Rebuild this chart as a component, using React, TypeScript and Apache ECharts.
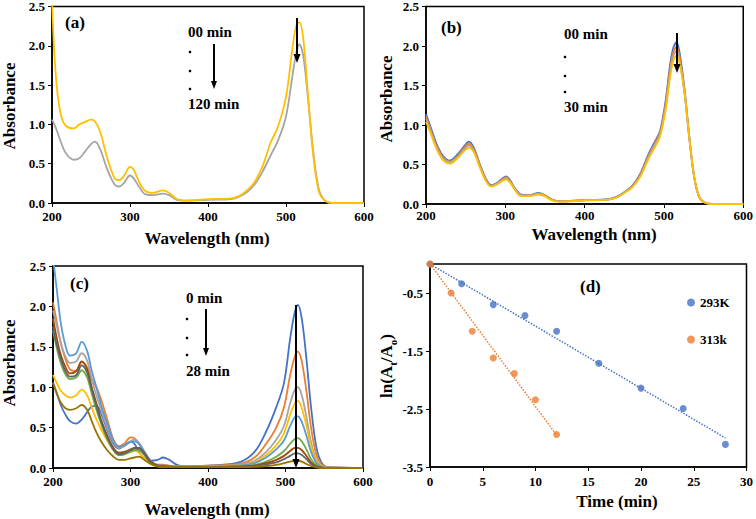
import React, { useEffect, useRef } from "react";
import * as echarts from "echarts";

// ---------- DATA ----------
// Panel (a)
const WL_A = [200, 203, 207, 212, 218, 228, 235, 242, 250, 255, 262, 270, 280, 286, 292, 300, 305, 312, 320, 330, 342, 350, 360, 370, 400, 430, 440, 450, 460, 470, 480, 490, 500, 508, 513, 517, 522, 528, 535, 542, 550, 560, 600];
const A_YELLOW = [2.6, 1.9, 1.4, 1.1, 0.98, 0.95, 1.0, 1.03, 1.06, 1.04, 0.9, 0.6, 0.32, 0.29, 0.34, 0.46, 0.42, 0.26, 0.15, 0.13, 0.16, 0.13, 0.05, 0.03, 0.05, 0.06, 0.09, 0.16, 0.27, 0.47, 0.76, 0.98, 1.35, 1.95, 2.25, 2.3, 2.1, 1.4, 0.6, 0.15, 0.03, 0.0, 0.0];
const A_GRAY = [1.06, 1.0, 0.9, 0.76, 0.63, 0.55, 0.57, 0.65, 0.75, 0.78, 0.68, 0.45, 0.24, 0.21, 0.25, 0.35, 0.31, 0.2, 0.11, 0.1, 0.12, 0.1, 0.04, 0.03, 0.04, 0.05, 0.08, 0.14, 0.24, 0.4, 0.6, 0.8, 1.1, 1.6, 1.9, 2.02, 1.88, 1.35, 0.65, 0.18, 0.03, 0.0, 0.0];

// Panel (b)
const WL_B = [200, 205, 210, 215, 222, 230, 240, 248, 254, 260, 268, 275, 282, 290, 296, 301, 306, 312, 320, 330, 342, 350, 358, 368, 400, 430, 440, 450, 460, 470, 480, 488, 495, 502, 508, 512, 516, 520, 526, 532, 538, 544, 550, 560, 600];
const B_BLUE = [1.14, 1.0, 0.85, 0.72, 0.6, 0.55, 0.63, 0.73, 0.79, 0.72, 0.5, 0.33, 0.24, 0.27, 0.32, 0.35, 0.3, 0.2, 0.12, 0.11, 0.14, 0.11, 0.06, 0.035, 0.05, 0.06, 0.09, 0.15, 0.23, 0.38, 0.62, 0.78, 0.92, 1.3, 1.78, 1.98, 2.05, 1.9, 1.45, 0.85, 0.35, 0.1, 0.025, 0.0, 0.0];
const B_ORANGE = [1.11, 0.97, 0.82, 0.7, 0.58, 0.54, 0.61, 0.71, 0.76, 0.7, 0.49, 0.32, 0.23, 0.26, 0.31, 0.34, 0.29, 0.19, 0.11, 0.11, 0.13, 0.11, 0.06, 0.033, 0.048, 0.058, 0.085, 0.145, 0.22, 0.37, 0.6, 0.76, 0.9, 1.26, 1.73, 1.93, 1.99, 1.85, 1.42, 0.84, 0.35, 0.1, 0.025, 0.0, 0.0];
const B_GRAY = [1.08, 0.95, 0.8, 0.68, 0.57, 0.53, 0.6, 0.69, 0.74, 0.68, 0.48, 0.31, 0.23, 0.26, 0.3, 0.33, 0.28, 0.19, 0.11, 0.1, 0.13, 0.1, 0.055, 0.032, 0.047, 0.057, 0.083, 0.143, 0.215, 0.36, 0.58, 0.74, 0.88, 1.22, 1.68, 1.88, 1.94, 1.8, 1.4, 0.83, 0.35, 0.1, 0.025, 0.0, 0.0];
const B_YELLOW = [1.04, 0.92, 0.78, 0.66, 0.55, 0.51, 0.58, 0.67, 0.71, 0.66, 0.46, 0.3, 0.22, 0.25, 0.29, 0.31, 0.27, 0.18, 0.1, 0.1, 0.12, 0.1, 0.05, 0.03, 0.045, 0.055, 0.08, 0.14, 0.21, 0.34, 0.56, 0.71, 0.85, 1.18, 1.62, 1.82, 1.88, 1.77, 1.4, 0.84, 0.36, 0.1, 0.025, 0.0, 0.0];

// Panel (c)
const WL_C = [200, 205, 210, 216, 222, 230, 237, 244, 250, 256, 262, 270, 278, 285, 292, 300, 305, 311, 318, 326, 335, 342, 350, 360, 370, 400, 440, 460, 475, 488, 498, 506, 512, 516, 521, 527, 533, 540, 547, 555, 600];
const C_BLUE = [1.06, 0.92, 0.78, 0.66, 0.58, 0.55, 0.6, 0.69, 0.76, 0.77, 0.68, 0.47, 0.3, 0.24, 0.28, 0.33, 0.3, 0.2, 0.12, 0.09, 0.1, 0.13, 0.1, 0.04, 0.02, 0.03, 0.07, 0.2, 0.45, 0.75, 1.05, 1.6, 1.93, 2.02, 1.85, 1.35, 0.75, 0.25, 0.06, 0.01, 0.0];
const C_ORANGE = [2.05, 1.8, 1.55, 1.35, 1.22, 1.2, 1.31, 1.25, 1.1, 1.0, 0.85, 0.6, 0.35, 0.27, 0.3, 0.38, 0.37, 0.3, 0.18, 0.08, 0.04, 0.04, 0.03, 0.02, 0.02, 0.03, 0.05, 0.13, 0.3, 0.5, 0.75, 1.15, 1.38, 1.44, 1.32, 0.95, 0.5, 0.16, 0.04, 0.01, 0.0];
const C_GRAY = [1.95, 1.75, 1.55, 1.38, 1.3, 1.32, 1.42, 1.33, 1.1, 0.9, 0.72, 0.5, 0.32, 0.25, 0.27, 0.33, 0.35, 0.31, 0.2, 0.08, 0.03, 0.03, 0.02, 0.02, 0.02, 0.02, 0.04, 0.09, 0.2, 0.35, 0.52, 0.8, 0.97, 1.0, 0.9, 0.63, 0.32, 0.1, 0.025, 0.005, 0.0];
const C_YELLOW = [1.15, 1.05, 0.96, 0.9, 0.87, 0.9, 0.97, 0.9, 0.75, 0.6, 0.48, 0.34, 0.22, 0.16, 0.17, 0.2, 0.21, 0.19, 0.12, 0.05, 0.02, 0.02, 0.02, 0.01, 0.01, 0.02, 0.03, 0.07, 0.16, 0.28, 0.43, 0.66, 0.8, 0.83, 0.74, 0.52, 0.27, 0.08, 0.02, 0.0, 0.0];
const C_LIGHTBLUE = [2.6, 2.2, 1.8, 1.52, 1.39, 1.42, 1.56, 1.45, 1.2, 1.0, 0.78, 0.55, 0.34, 0.26, 0.28, 0.32, 0.33, 0.3, 0.2, 0.09, 0.03, 0.03, 0.02, 0.02, 0.02, 0.02, 0.03, 0.06, 0.13, 0.23, 0.34, 0.52, 0.63, 0.64, 0.57, 0.4, 0.2, 0.06, 0.015, 0.0, 0.0];
const C_GREEN = [1.7, 1.48, 1.3, 1.16, 1.1, 1.12, 1.21, 1.12, 0.92, 0.72, 0.55, 0.36, 0.22, 0.16, 0.17, 0.2, 0.22, 0.22, 0.16, 0.07, 0.03, 0.02, 0.01, 0.01, 0.01, 0.01, 0.02, 0.04, 0.08, 0.14, 0.21, 0.3, 0.36, 0.37, 0.33, 0.23, 0.11, 0.03, 0.005, 0.0, 0.0];
const C_BROWN = [1.85, 1.6, 1.4, 1.25, 1.17, 1.2, 1.32, 1.22, 1.0, 0.8, 0.6, 0.4, 0.25, 0.19, 0.2, 0.23, 0.25, 0.25, 0.18, 0.08, 0.03, 0.02, 0.02, 0.01, 0.01, 0.01, 0.02, 0.03, 0.06, 0.1, 0.15, 0.21, 0.25, 0.25, 0.22, 0.15, 0.07, 0.02, 0.005, 0.0, 0.0];
const C_DARKGRAY = [1.75, 1.52, 1.35, 1.2, 1.13, 1.15, 1.27, 1.18, 0.97, 0.77, 0.58, 0.38, 0.23, 0.17, 0.18, 0.22, 0.24, 0.24, 0.17, 0.07, 0.03, 0.02, 0.01, 0.01, 0.01, 0.01, 0.015, 0.025, 0.045, 0.07, 0.11, 0.15, 0.18, 0.18, 0.16, 0.11, 0.05, 0.015, 0.0, 0.0, 0.0];
const C_OLIVE = [1.05, 0.92, 0.81, 0.74, 0.72, 0.74, 0.78, 0.72, 0.58, 0.44, 0.33, 0.22, 0.14, 0.1, 0.1, 0.12, 0.13, 0.14, 0.1, 0.05, 0.02, 0.01, 0.01, 0.01, 0.01, 0.01, 0.01, 0.015, 0.025, 0.04, 0.06, 0.08, 0.09, 0.09, 0.08, 0.05, 0.025, 0.008, 0.0, 0.0, 0.0];

// Panel (d)
const TIME_293 = [0, 3, 6, 9, 12, 16, 20, 24, 28];
const LN_293 = [0, -0.34, -0.7, -0.89, -1.16, -1.71, -2.14, -2.49, -3.11];
const TIME_313 = [0, 2, 4, 6, 8, 10, 12];
const LN_313 = [0, -0.5, -1.16, -1.62, -1.89, -2.34, -2.94];
const FIT_293_X = [0, 28];
const FIT_293_Y = [0, -3.0];
const FIT_313_X = [0, 12];
const FIT_313_Y = [0, -2.95];

const WL_TICKS = [200, 300, 400, 500, 600];
const ABS_TICKS = [0, 0.5, 1.0, 1.5, 2.0, 2.5];
const LN_TICKS = [-3.5, -2.5, -1.5, -0.5];

// ---------- STYLE ----------
const FONT = "'Liberation Serif', 'Times New Roman', serif";
const BLUE = "#4472C4";
const ORANGE = "#ED7D31";
const GRAY = "#A5A5A5";
const YELLOW = "#FFC000";
const LIGHTBLUE = "#5B9BD5";
const GREEN = "#70AD47";
const BROWN = "#9E480E";
const DARKGRAY = "#636363";
const OLIVE = "#997300";

const zip = (xs: number[], ys: number[]) => xs.map((x, i) => [x, ys[i]]);

function spec(name: string, xs: number[], ys: number[], color: string, idx: number) {
  return {
    type: "line",
    name,
    xAxisIndex: idx,
    yAxisIndex: idx,
    data: zip(xs, ys),
    smooth: 0.35,
    symbol: "none",
    showSymbol: false,
    lineStyle: { color, width: 1.8 },
    itemStyle: { color },
    clip: true,
  };
}

const labelStyle = { fontFamily: FONT, fontWeight: "bold", fontSize: 13, color: "#000" };

function wlAxis(idx: number, margin = 7) {
  return {
    gridIndex: idx,
    type: "value",
    min: 200,
    max: 600,
    interval: 100,
    axisLine: { onZero: false, lineStyle: { color: "#000", width: 1.5 } },
    axisTick: { show: true, length: 4, lineStyle: { color: "#000", width: 1 }, customValues: WL_TICKS },
    axisLabel: { ...labelStyle, margin, customValues: WL_TICKS },
    splitLine: { show: false },
  };
}
function absAxis(idx: number) {
  return {
    gridIndex: idx,
    type: "value",
    min: 0,
    max: 2.5,
    interval: 0.5,
    axisLine: { onZero: false, lineStyle: { color: "#000", width: 1.5 } },
    axisTick: { show: true, length: 4, lineStyle: { color: "#000", width: 1 }, customValues: ABS_TICKS },
    axisLabel: { ...labelStyle, margin: 7, customValues: ABS_TICKS, formatter: (v: number) => v.toFixed(1) },
    splitLine: { show: false },
  };
}

const txt = (text: string, x: number, y: number, size: number, align = "left", rotation = 0) => ({
  type: "text",
  x,
  y,
  rotation,
  z: 100,
  style: {
    text,
    font: `bold ${size}px ${FONT}`,
    fill: "#000",
    align,
    textAlign: align,
    verticalAlign: "middle",
    textVerticalAlign: "middle",
  },
});
const dot = (x: number, y: number) => ({ type: "circle", z: 100, shape: { cx: x, cy: y, r: 1.3 }, style: { fill: "#000" } });
const arrow = (x: number, y1: number, y2: number, hw: number, hl: number, w: number) => [
  { type: "line", z: 100, shape: { x1: x, y1, x2: x, y2: y2 - hl + 1 }, style: { stroke: "#000", lineWidth: w } },
  {
    type: "polygon",
    z: 100,
    shape: { points: [[x - hw, y2 - hl], [x + hw, y2 - hl], [x, y2]] },
    style: { fill: "#000" },
  },
];

export default function App() {
  const ref = useRef<HTMLDivElement>(null);
  useEffect(() => {
    if (!ref.current) return;
    const chart = echarts.init(ref.current, null, { renderer: "svg" });
    const border = { show: true, borderColor: "#000", borderWidth: 1.5 };
    const option: any = {
      animation: false,
      backgroundColor: "#fff",
      grid: [
        { left: 52, top: 6, width: 312, height: 197, ...border },
        { left: 426, top: 6, width: 319, height: 198, ...border },
        { left: 53, top: 266, width: 310, height: 202, ...border },
        { left: 430, top: 264, width: 318, height: 203, ...border },
      ],
      xAxis: [
        wlAxis(0),
        wlAxis(1, 5),
        wlAxis(2),
        {
          gridIndex: 3,
          type: "value",
          min: 0,
          max: 30,
          interval: 5,
          axisLine: { onZero: false, lineStyle: { color: "#000", width: 1.5 } },
          axisTick: { show: true, length: 4, lineStyle: { color: "#000", width: 1 } },
          axisLabel: { ...labelStyle, margin: 8 },
          splitLine: { show: false },
        },
      ],
      yAxis: [
        absAxis(0),
        absAxis(1),
        absAxis(2),
        {
          gridIndex: 3,
          type: "value",
          min: -3.5,
          max: 0,
          interval: 0.5,
          axisLine: { onZero: false, lineStyle: { color: "#000", width: 1.5 } },
          axisTick: { show: true, length: 4, lineStyle: { color: "#000", width: 1 }, customValues: LN_TICKS },
          axisLabel: { ...labelStyle, margin: 7, customValues: LN_TICKS, formatter: (v: number) => v.toFixed(1) },
          splitLine: { show: false },
        },
      ],
      legend: {
        data: ["293K", "313k"],
        orient: "vertical",
        left: 682,
        top: 291,
        itemGap: 24,
        itemWidth: 8,
        itemHeight: 8,
        icon: "circle",
        textStyle: { fontFamily: FONT, fontWeight: "bold", fontSize: 13, color: "#000" },
      },
      series: [
        spec("(a) 120 min", WL_A, A_GRAY, GRAY, 0),
        spec("(a) 00 min", WL_A, A_YELLOW, YELLOW, 0),
        spec("(b) s1", WL_B, B_BLUE, BLUE, 1),
        spec("(b) s2", WL_B, B_ORANGE, ORANGE, 1),
        spec("(b) s3", WL_B, B_GRAY, GRAY, 1),
        spec("(b) s4", WL_B, B_YELLOW, YELLOW, 1),
        spec("(c) 0", WL_C, C_BLUE, BLUE, 2),
        spec("(c) 1", WL_C, C_ORANGE, ORANGE, 2),
        spec("(c) 2", WL_C, C_GRAY, GRAY, 2),
        spec("(c) 3", WL_C, C_YELLOW, YELLOW, 2),
        spec("(c) 4", WL_C, C_LIGHTBLUE, LIGHTBLUE, 2),
        spec("(c) 5", WL_C, C_GREEN, GREEN, 2),
        spec("(c) 6", WL_C, C_BROWN, BROWN, 2),
        spec("(c) 7", WL_C, C_DARKGRAY, DARKGRAY, 2),
        spec("(c) 8", WL_C, C_OLIVE, OLIVE, 2),
        {
          type: "line",
          name: "fit293",
          xAxisIndex: 3,
          yAxisIndex: 3,
          data: zip(FIT_293_X, FIT_293_Y),
          symbol: "none",
          lineStyle: { color: BLUE, width: 1.5, type: "dotted" },
          z: 1,
        },
        {
          type: "line",
          name: "fit313",
          xAxisIndex: 3,
          yAxisIndex: 3,
          data: zip(FIT_313_X, FIT_313_Y),
          symbol: "none",
          lineStyle: { color: ORANGE, width: 1.5, type: "dotted" },
          z: 1,
        },
        {
          type: "scatter",
          name: "293K",
          xAxisIndex: 3,
          yAxisIndex: 3,
          data: zip(TIME_293, LN_293),
          symbolSize: 7,
          itemStyle: { color: BLUE },
          z: 3,
        },
        {
          type: "scatter",
          name: "313k",
          xAxisIndex: 3,
          yAxisIndex: 3,
          data: zip(TIME_313, LN_313),
          symbolSize: 7,
          itemStyle: { color: ORANGE },
          z: 4,
        },
      ],
      graphic: [
        // axis names
        txt("Absorbance", 9, 106, 17, "center", Math.PI / 2),
        txt("Wavelength (nm)", 207, 238, 17, "center"),
        txt("Absorbance", 386, 99, 17, "center", Math.PI / 2),
        txt("Wavelength (nm)", 594, 234, 17, "center"),
        txt("Absorbance", 9, 363, 17, "center", Math.PI / 2),
        txt("Wavelength (nm)", 207, 509, 17, "center"),
        txt("Time (min)", 617, 501, 17, "center"),
        {
          type: "text",
          x: 386,
          y: 366,
          rotation: Math.PI / 2,
          z: 100,
          style: {
            text: "{n|ln(A}{s|t}{n|/A}{s|o}{n|)}",
            align: "center",
            textAlign: "center",
            verticalAlign: "middle",
            textVerticalAlign: "middle",
            fill: "#000",
            rich: {
              n: { font: `bold 17px ${FONT}`, fill: "#000", verticalAlign: "bottom" },
              s: { font: `bold 11px ${FONT}`, fill: "#000", verticalAlign: "bottom", padding: [0, 0, -4, 0] },
            },
          },
        },
        // panel (a)
        txt("(a)", 65, 22, 17),
        txt("00 min", 188, 32, 15),
        dot(190, 52),
        dot(190, 71),
        dot(190, 89),
        txt("120 min", 188, 104, 15),
        ...arrow(214, 44, 89, 3, 8, 2),
        ...arrow(297, 18, 63, 3.5, 9, 2),
        // panel (b)
        txt("(b)", 441, 27, 17),
        txt("00 min", 564, 34, 15),
        dot(565, 57),
        dot(565, 76),
        dot(565, 92),
        txt("30 min", 564, 107, 15),
        ...arrow(677, 33, 73, 3.5, 9, 2),
        // panel (c)
        txt("(c)", 70, 283, 17),
        txt("0 min", 186, 298, 15),
        dot(187, 319),
        dot(187, 338),
        dot(187, 355),
        txt("28 min", 186, 371, 15),
        ...arrow(206, 309, 356, 3, 8, 2),
        ...arrow(296, 305, 468, 3.5, 9, 2),
        // panel (d)
        txt("(d)", 580, 286, 17),
      ],
    };
    chart.setOption(option);
    return () => chart.dispose();
  }, []);
  return <div ref={ref} style={{ position: "fixed", left: 0, top: 0, width: 756, height: 519, background: "#fff" }} />;
}
